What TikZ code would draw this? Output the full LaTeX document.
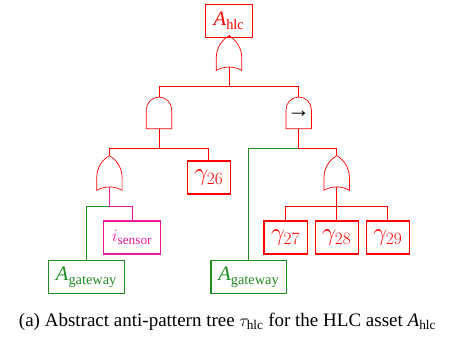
\documentclass[tikz,border=0pt]{standalone}
\usepackage{amsmath}
\usepackage{fontspec}
\setmainfont{Liberation Serif}
\usetikzlibrary{positioning,shapes.gates.logic.US}
\definecolor{gatewaygreen}{RGB}{30,140,30}
\definecolor{sensorpink}{RGB}{235,25,155}

\begin{document}
\begin{tikzpicture}[
        box/.style={rectangle, draw=#1, text=#1, line width=1.1pt, inner sep=0pt, minimum height=33pt, font=\fontsize{20.5}{21}\selectfont},
        gammabox/.style={box=red, minimum width=43.3pt, font=\fontsize{24}{24}\selectfont},
        orgate/.style={or gate US, draw=red, line width=0.7pt, rotate=90, minimum width=33.5pt, minimum height=25.4pt, inner sep=0pt, logic gate inputs=nn},
        andgate/.style={and gate US, draw=red, line width=0.7pt, rotate=90, minimum width=30.6pt, minimum height=25.4pt, inner sep=0pt, logic gate inputs=nn},
        wire/.style={draw=#1, line width=0.8pt}]

        \useasboundingbox (0pt,0pt) rectangle (450pt,-337pt);

        \node[box=red, minimum width=46.6pt] (root) at (229pt,-20.8pt) {\textit{A}$_{\mathrm{hlc}}$};
        \node[orgate] (or1) at (229pt,-55.6pt) {};
        \node[andgate] (and1) at (159pt,-114pt) {};
        \node[andgate] (and2) at (298.7pt,-114pt) {};
        \node[font=\fontsize{23}{23}\selectfont] (seq) at (and2) {\textbf{→}};

        \node[orgate] (or2) at (109.4pt,-175.5pt) {};
        \node[gammabox] (g26) at (208.8pt,-177.5pt) {$\gamma_{26}$};
        \node[box=sensorpink, minimum width=57.4pt, font=\fontsize{19}{19}\selectfont] (sensor) at (132pt,-237.5pt) {$i_{\mathrm{sensor}}$};
        \node[box=gatewaygreen, minimum width=76pt] (gw1) at (86.4pt,-277.3pt) {\textit{A}$_{\mathrm{gateway}}$};

        \node[box=gatewaygreen, minimum width=75.7pt] (gw2) at (248.8pt,-277.3pt) {\textit{A}$_{\mathrm{gateway}}$};
        \node[orgate] (or3) at (336.7pt,-175.5pt) {};
        \node[gammabox] (g28) at (336.7pt,-237.5pt) {$\gamma_{28}$};
        \node[gammabox] (g27) [left=6.7pt of g28] {$\gamma_{27}$};
        \node[gammabox] (g29) [right=6.7pt of g28] {$\gamma_{29}$};

        \node[font=\fontsize{19}{19}\selectfont] (caption) at (227.5pt,-321.5pt) {(a) Abstract anti-pattern tree $\tau_{\mathrm{hlc}}$ for the HLC asset \textit{A}$_{\mathrm{hlc}}$};

        \draw[wire=red] (root) -- (or1.east);
        \draw[wire=red] (or1.west) -- ++(0pt,-19.5pt) -| (and1.east);
        \draw[wire=red] (or1.west) -- ++(0pt,-19.5pt) -| (and2.east);
        \draw[wire=gatewaygreen] (and2.west) -- ++(0pt,-19.7pt) -| (gw2);
        \draw[wire=red] (and2.west) -- ++(0pt,-19.7pt) -| (or3.east);
        \draw[wire=red] (and1.west) -- ++(0pt,-19.7pt) -| (or2.east);
        \draw[wire=red] (and1.west) -- ++(0pt,-19.7pt) -| (g26);
        \draw[wire=gatewaygreen] (or2.west) -- ++(0pt,-19pt) -| (gw1);
        \draw[wire=sensorpink] (or2.west) -- ++(0pt,-19pt) -| (sensor);
        \draw[wire=red] (or3.west) -- ++(0pt,-19pt) -| (g27);
        \draw[wire=red] (or3.west) -- ++(0pt,-19pt) -| (g29);
        \draw[wire=red] (or3.west) -- (g28);

\end{tikzpicture}
\end{document}
